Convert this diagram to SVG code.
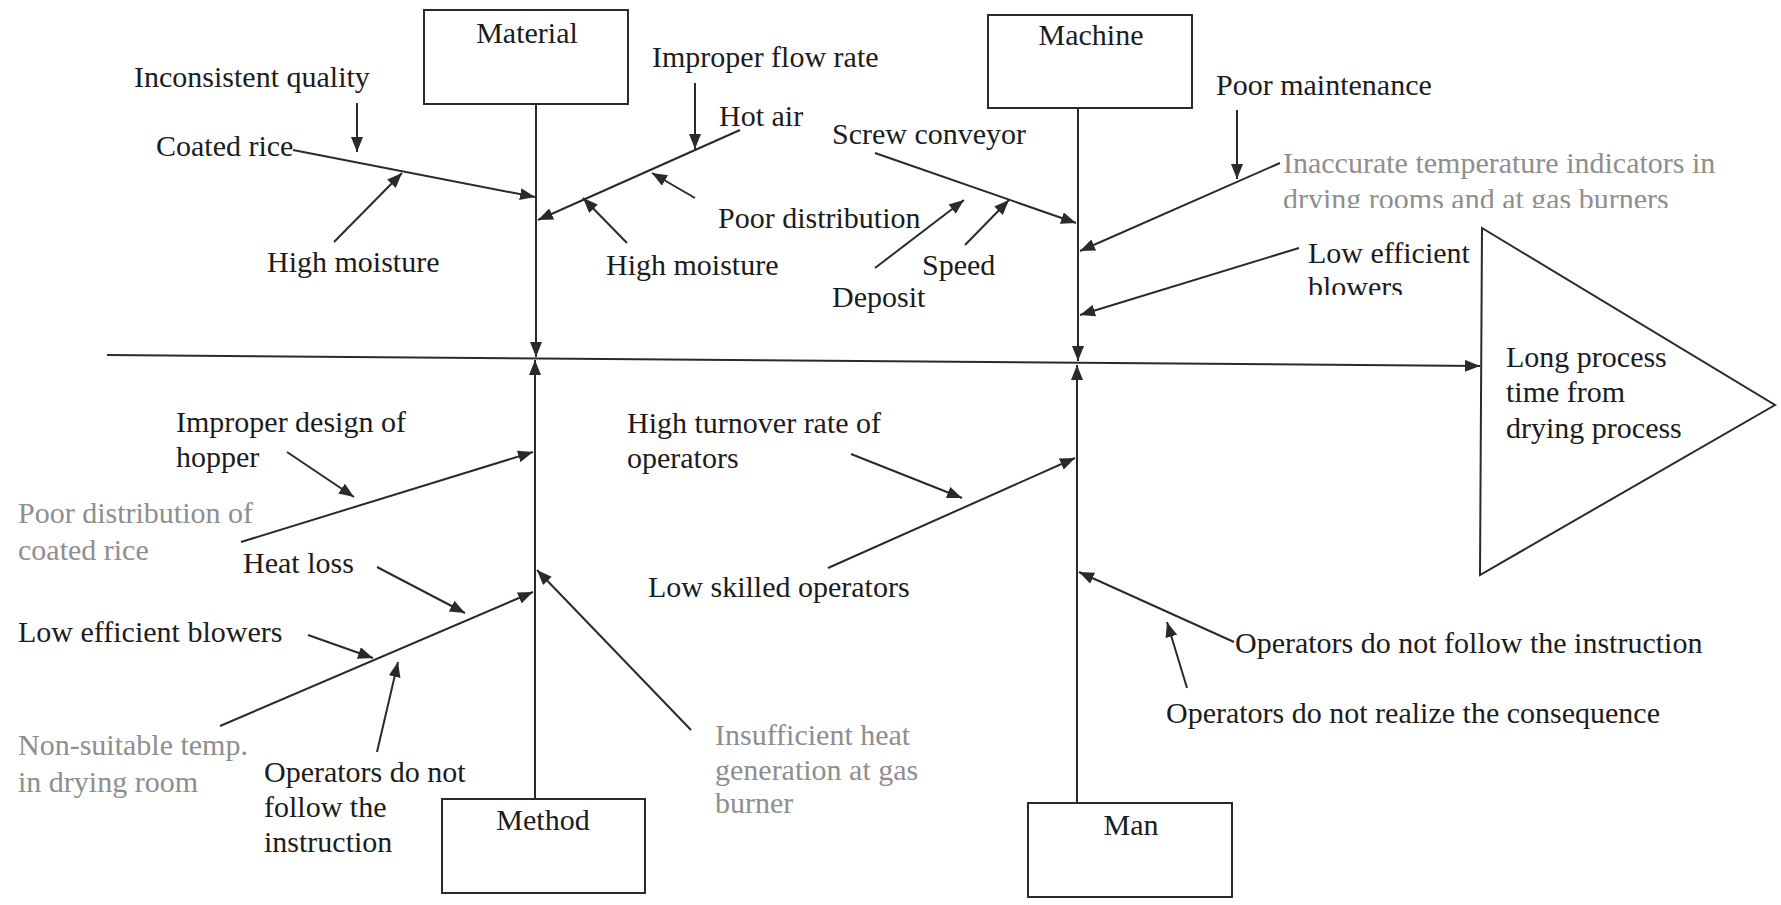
<svg xmlns="http://www.w3.org/2000/svg" width="1781" height="905" viewBox="0 0 1781 905">
  <style>
    text { font-family: "Liberation Serif", "Times New Roman", serif; font-size: 30px; fill: #1c1c1c; }
    text.grey { fill: #8e8e8e; }
    text.mid { text-anchor: middle; }
    .box { fill: #ffffff; stroke: #2a2a2a; stroke-width: 2; }
    .ln { fill: none; stroke: #2a2a2a; stroke-width: 2; }
    .arr { fill: none; stroke: #2a2a2a; stroke-width: 2; marker-end: url(#head); }
  </style>
  <defs>
    <marker id="head" markerUnits="userSpaceOnUse" markerWidth="16" markerHeight="12" refX="15" refY="6" orient="auto">
      <path d="M0,0 L15,6 L0,12 z" fill="#2a2a2a"/>
    </marker>
    <clipPath id="clipDrying"><rect x="1270" y="180" width="500" height="28"/></clipPath>
    <clipPath id="clipBlowers"><rect x="1300" y="270" width="200" height="25"/></clipPath>
  </defs>
  <rect width="1781" height="905" fill="#ffffff"/>

  <!-- connectors: backbone, category spines, bones -->
  <g id="connectors">
    <line class="arr" x1="107" y1="355" x2="1480" y2="366"/>
    <line class="arr" x1="536" y1="104" x2="536" y2="357"/>
    <line class="arr" x1="1078" y1="108" x2="1078" y2="361"/>
    <line class="arr" x1="535" y1="799" x2="535" y2="360"/>
    <line class="arr" x1="1077" y1="803" x2="1077" y2="365"/>

    <!-- Material -->
    <line class="arr" x1="293" y1="150" x2="535" y2="197"/>
    <line class="arr" x1="357" y1="103" x2="357" y2="152"/>
    <line class="arr" x1="334" y1="242" x2="402" y2="173"/>
    <line class="arr" x1="740" y1="130" x2="538" y2="220"/>
    <line class="arr" x1="695" y1="83" x2="695" y2="149"/>
    <line class="arr" x1="695" y1="198" x2="652" y2="173"/>
    <line class="arr" x1="627" y1="243" x2="583" y2="198"/>

    <!-- Machine -->
    <line class="arr" x1="875" y1="153" x2="1076" y2="223"/>
    <line class="arr" x1="875" y1="268" x2="964" y2="200"/>
    <line class="arr" x1="965" y1="245" x2="1009" y2="200"/>
    <line class="arr" x1="1237" y1="110" x2="1237" y2="179"/>
    <line class="arr" x1="1280" y1="163" x2="1080" y2="251"/>
    <line class="arr" x1="1299" y1="248" x2="1080" y2="315"/>

    <!-- Method -->
    <line class="arr" x1="241" y1="542" x2="533" y2="452"/>
    <line class="arr" x1="287" y1="452" x2="354" y2="497"/>
    <line class="arr" x1="220" y1="726" x2="533" y2="592"/>
    <line class="arr" x1="377" y1="567" x2="465" y2="613"/>
    <line class="arr" x1="308" y1="635" x2="373" y2="658"/>
    <line class="arr" x1="377" y1="752" x2="398" y2="662"/>
    <line class="arr" x1="691" y1="730" x2="537" y2="570"/>

    <!-- Man -->
    <line class="arr" x1="828" y1="568" x2="1075" y2="458"/>
    <line class="arr" x1="851" y1="454" x2="962" y2="498"/>
    <line class="arr" x1="1234" y1="642" x2="1079" y2="572"/>
    <line class="arr" x1="1187" y1="688" x2="1167" y2="622"/>
  </g>

  <!-- category boxes -->
  <g id="material">
    <rect class="box" x="424" y="10" width="204" height="94"/>
    <text class="mid" x="527" y="43">Material</text>
  </g>
  <g id="machine">
    <rect class="box" x="988" y="15" width="204" height="93"/>
    <text class="mid" x="1091" y="45">Machine</text>
  </g>
  <g id="method">
    <rect class="box" x="442" y="799" width="203" height="94"/>
    <text class="mid" x="543" y="830">Method</text>
  </g>
  <g id="man">
    <rect class="box" x="1028" y="803" width="204" height="94"/>
    <text class="mid" x="1131" y="835">Man</text>
  </g>

  <!-- effect head -->
  <g id="effect">
    <path class="ln" d="M1482,228 L1775,405 L1480,575 Z" fill="#ffffff"/>
    <text x="1506" y="367">Long process</text>
    <text x="1506" y="402">time from</text>
    <text x="1506" y="438">drying process</text>
  </g>

  <!-- cause labels -->
  <g id="material-causes">
    <text x="134" y="87">Inconsistent quality</text>
    <text x="156" y="156">Coated rice</text>
    <text x="267" y="272">High moisture</text>
    <text x="652" y="67">Improper flow rate</text>
    <text x="719" y="126">Hot air</text>
    <text x="718" y="228">Poor distribution</text>
    <text x="606" y="275">High moisture</text>
  </g>
  <g id="machine-causes">
    <text x="832" y="144">Screw conveyor</text>
    <text x="832" y="307">Deposit</text>
    <text x="922" y="275">Speed</text>
    <text x="1216" y="95">Poor maintenance</text>
    <text class="grey" x="1283" y="173">Inaccurate temperature indicators in</text>
    <text class="grey" x="1283" y="209" clip-path="url(#clipDrying)">drying rooms and at gas burners</text>
    <text x="1308" y="263">Low efficient</text>
    <text x="1308" y="297" clip-path="url(#clipBlowers)">blowers</text>
  </g>
  <g id="method-causes">
    <text x="176" y="432">Improper design of</text>
    <text x="176" y="467">hopper</text>
    <text class="grey" x="18" y="523">Poor distribution of</text>
    <text class="grey" x="18" y="560">coated rice</text>
    <text x="243" y="573">Heat loss</text>
    <text x="18" y="642">Low efficient blowers</text>
    <text class="grey" x="18" y="755">Non-suitable temp.</text>
    <text class="grey" x="18" y="792">in drying room</text>
    <text x="264" y="782">Operators do not</text>
    <text x="264" y="817">follow the</text>
    <text x="264" y="852">instruction</text>
    <text class="grey" x="715" y="745">Insufficient heat</text>
    <text class="grey" x="715" y="780">generation at gas</text>
    <text class="grey" x="715" y="813">burner</text>
  </g>
  <g id="man-causes">
    <text x="627" y="433">High turnover rate of</text>
    <text x="627" y="468">operators</text>
    <text x="648" y="597">Low skilled operators</text>
    <text x="1235" y="653">Operators do not follow the instruction</text>
    <text x="1166" y="723">Operators do not realize the consequence</text>
  </g>
</svg>
